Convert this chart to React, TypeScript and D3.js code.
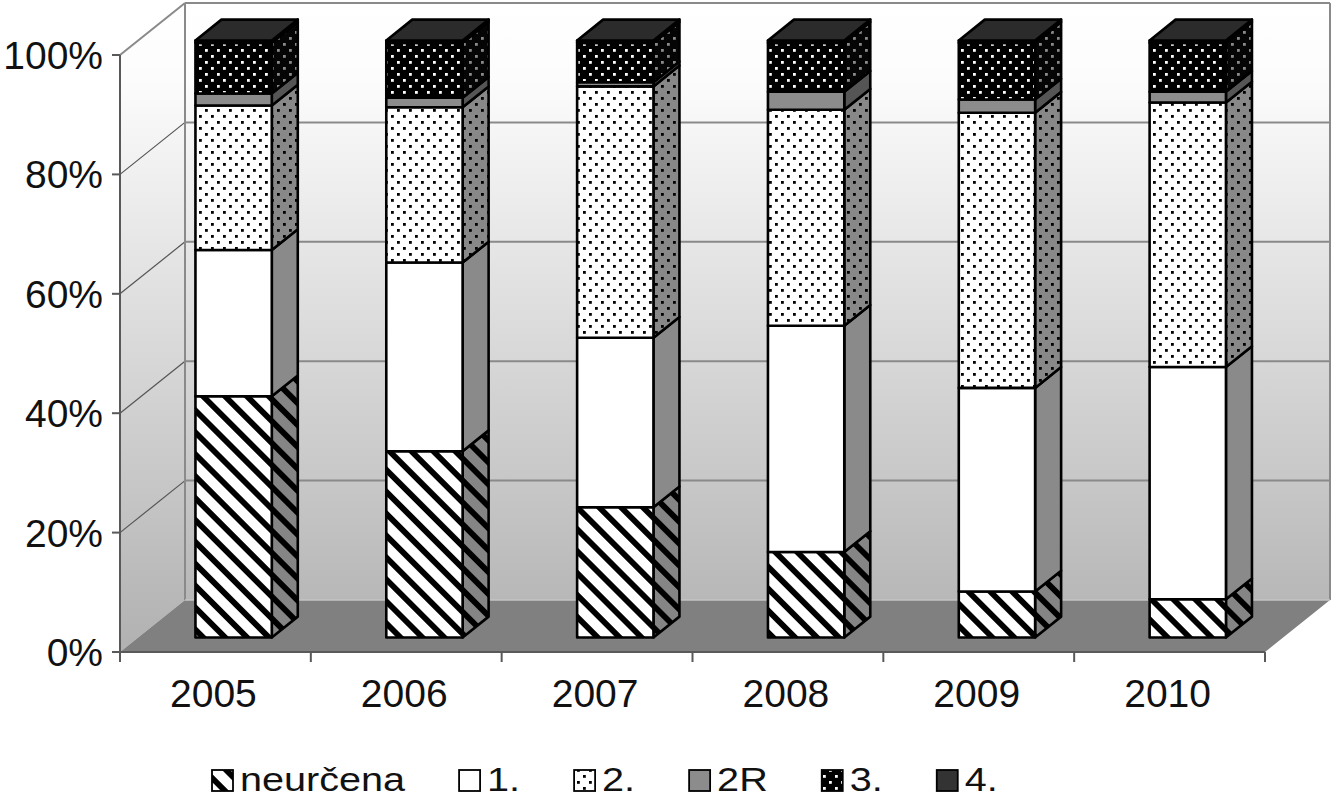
import { useEffect, useRef } from "react";
import * as d3 from "d3";

const WIDTH = 1336;
const HEIGHT = 800;
const FONT = '"Liberation Sans", Arial, sans-serif';

const CATEGORIES = ["2005", "2006", "2007", "2008", "2009", "2010"];
const SERIES = ["neurčena", "1.", "2.", "2R", "3.", "4."];

// percentage shares
const NEURCENA = [40.4, 31.2, 21.8, 14.3, 7.7, 6.4];
const FIRST = [24.5, 31.6, 28.4, 37.9, 34.1, 38.9];
const SECOND = [24.2, 26.0, 42.1, 36.2, 46.1, 44.3];
const SECOND_R = [2.0, 1.6, 0.7, 3.0, 2.2, 1.8];
const THIRD = [8.5, 9.2, 6.6, 8.2, 9.5, 8.2];
const FOURTH = [0.4, 0.4, 0.4, 0.4, 0.4, 0.4];

const VALUE_TICKS = [0, 0.2, 0.4, 0.6, 0.8, 1];

const PLOT = { left: 120, right: 1265, floor: 652, top: 55 };
const DEPTH = { dx: 65, dy: 52 };
const BAR = { width: 0.4, front: 0.28, back: 0.68 };

// front / side fills per series, same order as SERIES
const FRONT_FILL = ["url(#stripe)", "#ffffff", "url(#dots2)", "#8c8c8c", "url(#dots3)", "#333333"];
const SIDE_FILL = ["url(#stripeSide)", "#8a8a8a", "url(#dots2Side)", "#555555", "url(#dots3Side)", "#1e1e1e"];
const TOP_FILL = "#2b2b2b";

export default function App() {
  const ref = useRef<SVGSVGElement>(null);

  useEffect(() => {
    const svg = d3.select(ref.current!);
    svg.selectAll("*").remove();

    const rows = CATEGORIES.map((c, i) => ({
      cat: c,
      "neurčena": NEURCENA[i],
      "1.": FIRST[i],
      "2.": SECOND[i],
      "2R": SECOND_R[i],
      "3.": THIRD[i],
      "4.": FOURTH[i],
    }));
    const stacked = d3
      .stack<any>()
      .keys(SERIES)
      .offset(d3.stackOffsetExpand)(rows);

    const x = d3.scaleBand().domain(CATEGORIES).range([PLOT.left, PLOT.right]).padding(0);
    const y = d3.scaleLinear().domain([0, 1]).range([PLOT.floor, PLOT.top]);
    const p = (xv: number, v: number, d: number): [number, number] => [
      xv + d * DEPTH.dx,
      y(v) - d * DEPTH.dy,
    ];
    const poly = (pts: [number, number][]) => pts.map((q) => q.join(",")).join(" ");

    svg.append("rect").attr("width", WIDTH).attr("height", HEIGHT).attr("fill", "#fff");

    // ---- defs: gradient + hatch patterns
    const defs = svg.append("defs");
    const grad = defs
      .append("linearGradient")
      .attr("id", "wall")
      .attr("gradientUnits", "userSpaceOnUse")
      .attr("x1", 0)
      .attr("y1", y(1) - DEPTH.dy)
      .attr("x2", 0)
      .attr("y2", PLOT.floor - 10);
    grad.append("stop").attr("offset", 0).attr("stop-color", "#ffffff");
    grad.append("stop").attr("offset", 0.12).attr("stop-color", "#fcfcfc");
    grad.append("stop").attr("offset", 1).attr("stop-color", "#b2b2b2");

    const stripe = (id: string, bg: string) => {
      const pt = defs
        .append("pattern")
        .attr("id", id)
        .attr("patternUnits", "userSpaceOnUse")
        .attr("width", 15.5)
        .attr("height", 15.5)
        .attr("patternTransform", "rotate(-45)");
      pt.append("rect").attr("width", 15.5).attr("height", 15.5).attr("fill", bg);
      pt.append("rect").attr("width", 5.8).attr("height", 15.5).attr("fill", "#000");
    };
    stripe("stripe", "#ffffff");
    stripe("stripeSide", "#858585");

    const dots = (id: string, bg: string, fg: string) => {
      const pt = defs
        .append("pattern")
        .attr("id", id)
        .attr("patternUnits", "userSpaceOnUse")
        .attr("width", 12)
        .attr("height", 12);
      pt.append("rect").attr("width", 12).attr("height", 12).attr("fill", bg);
      pt.append("rect").attr("x", 1).attr("y", 1).attr("width", 2.8).attr("height", 2.8).attr("fill", fg);
      pt.append("rect").attr("x", 7).attr("y", 7).attr("width", 2.8).attr("height", 2.8).attr("fill", fg);
    };
    dots("dots2", "#ffffff", "#000");
    dots("dots2Side", "#888888", "#000");
    dots("dots3", "#000000", "#ffffff");
    dots("dots3Side", "#050505", "#8a8a8a");

    // ---- walls and floor
    const bl = PLOT.left;
    const br = PLOT.right;
    svg
      .append("polygon")
      .attr("points", poly([p(bl, 1, 0), p(bl, 1, 1), p(bl, 0, 1), p(bl, 0, 0)]))
      .attr("fill", "url(#wall)");
    svg
      .append("polygon")
      .attr("points", poly([p(bl, 1, 1), p(br, 1, 1), p(br, 0, 1), p(bl, 0, 1)]))
      .attr("fill", "url(#wall)");
    svg
      .append("polygon")
      .attr("points", poly([p(bl, 0, 0), p(bl, 0, 1), p(br, 0, 1), p(br, 0, 0)]))
      .attr("fill", "#808080");

    // gridlines
    VALUE_TICKS.filter((t) => t > 0).forEach((t) => {
      const a = p(bl, t, 1);
      const b = p(br, t, 1);
      svg
        .append("line")
        .attr("x1", a[0]).attr("y1", a[1]).attr("x2", b[0]).attr("y2", b[1])
        .attr("stroke", "#8a8a8a")
        .attr("stroke-width", 2);
      const c = p(bl, t, 0);
      svg
        .append("line")
        .attr("x1", c[0]).attr("y1", c[1]).attr("x2", a[0]).attr("y2", a[1])
        .attr("stroke", t === 1 ? "#8a8a8a" : "#555")
        .attr("stroke-width", t === 1 ? 2 : 1.2);
    });
    // wall edges
    [
      [p(bl, 1, 1), p(bl, 0, 1)],
      [p(br, 1, 1), p(br, 0, 1)],
    ].forEach(([a, b]) =>
      svg
        .append("line")
        .attr("x1", a[0]).attr("y1", a[1]).attr("x2", b[0]).attr("y2", b[1])
        .attr("stroke", "#8a8a8a")
        .attr("stroke-width", 2)
    );
    svg
      .append("line")
      .attr("x1", p(bl, 0, 1)[0]).attr("y1", p(bl, 0, 1)[1])
      .attr("x2", p(br, 0, 1)[0]).attr("y2", p(br, 0, 1)[1])
      .attr("stroke", "#c4c4c4")
      .attr("stroke-width", 1.5);

    // ---- bars
    const bw = x.bandwidth();
    const bars = svg
      .append("g")
      .attr("stroke", "#000")
      .attr("stroke-width", 2.6)
      .attr("stroke-linejoin", "round");
    CATEGORIES.forEach((cat, i) => {
      const xl = (x(cat) ?? 0) + (bw * (1 - BAR.width)) / 2;
      const xr = xl + bw * BAR.width;
      stacked.forEach((s, j) => {
        const [v0, v1] = s[i];
        if (v1 - v0 <= 0) return;
        bars
          .append("polygon")
          .attr("points", poly([p(xr, v0, BAR.front), p(xr, v0, BAR.back), p(xr, v1, BAR.back), p(xr, v1, BAR.front)]))
          .attr("fill", SIDE_FILL[j]);
        bars
          .append("polygon")
          .attr("points", poly([p(xl, v0, BAR.front), p(xr, v0, BAR.front), p(xr, v1, BAR.front), p(xl, v1, BAR.front)]))
          .attr("fill", FRONT_FILL[j]);
      });
      bars
        .append("polygon")
        .attr("points", poly([p(xl, 1, BAR.front), p(xl, 1, BAR.back), p(xr, 1, BAR.back), p(xr, 1, BAR.front)]))
        .attr("fill", TOP_FILL);
    });

    // ---- axes
    const axisColor = "#595959";
    svg
      .append("line")
      .attr("x1", PLOT.left).attr("x2", PLOT.left)
      .attr("y1", y(1)).attr("y2", y(0))
      .attr("stroke", axisColor)
      .attr("stroke-width", 2);
    VALUE_TICKS.forEach((t) => {
      svg
        .append("line")
        .attr("x1", PLOT.left - 8).attr("x2", PLOT.left)
        .attr("y1", y(t)).attr("y2", y(t))
        .attr("stroke", axisColor)
        .attr("stroke-width", 2);
      svg
        .append("text")
        .attr("x", PLOT.left - 17)
        .attr("y", y(t) + 14)
        .attr("text-anchor", "end")
        .attr("font-family", FONT)
        .attr("font-size", 39)
        .attr("fill", "#111")
        .text(d3.format(".0%")(t));
    });
    svg
      .append("line")
      .attr("x1", PLOT.left).attr("x2", PLOT.right)
      .attr("y1", y(0)).attr("y2", y(0))
      .attr("stroke", axisColor)
      .attr("stroke-width", 2);
    [...CATEGORIES.map((c) => x(c) ?? 0), PLOT.right].forEach((tx) =>
      svg
        .append("line")
        .attr("x1", tx).attr("x2", tx)
        .attr("y1", y(0)).attr("y2", y(0) + 10)
        .attr("stroke", axisColor)
        .attr("stroke-width", 2)
    );
    CATEGORIES.forEach((c) =>
      svg
        .append("text")
        .attr("x", (x(c) ?? 0) + bw / 2 - 2)
        .attr("y", 707)
        .attr("text-anchor", "middle")
        .attr("font-family", FONT)
        .attr("font-size", 39)
        .attr("fill", "#111")
        .text(c)
    );

    // ---- legend
    const legend = svg.append("g");
    let lx = 212;
    const sw = 21;
    const baseline = 791;
    SERIES.forEach((name, j) => {
      legend
        .append("rect")
        .attr("x", lx)
        .attr("y", baseline - sw)
        .attr("width", sw)
        .attr("height", sw)
        .attr("fill", FRONT_FILL[j])
        .attr("stroke", "#000")
        .attr("stroke-width", 1.8);
      const t = legend
        .append("text")
        .attr("transform", `translate(${lx + 28},${baseline}) scale(1.2,1)`)
        .attr("font-family", FONT)
        .attr("font-size", 33)
        .attr("fill", "#111")
        .text(name);
      const w = (t.node() as SVGTextElement).getComputedTextLength() * 1.2;
      lx += 28 + w + 54;
    });
  }, []);

  return (
    <svg
      ref={ref}
      width={WIDTH}
      height={HEIGHT}
      style={{ position: "absolute", left: 0, top: 0, display: "block" }}
    />
  );
}
